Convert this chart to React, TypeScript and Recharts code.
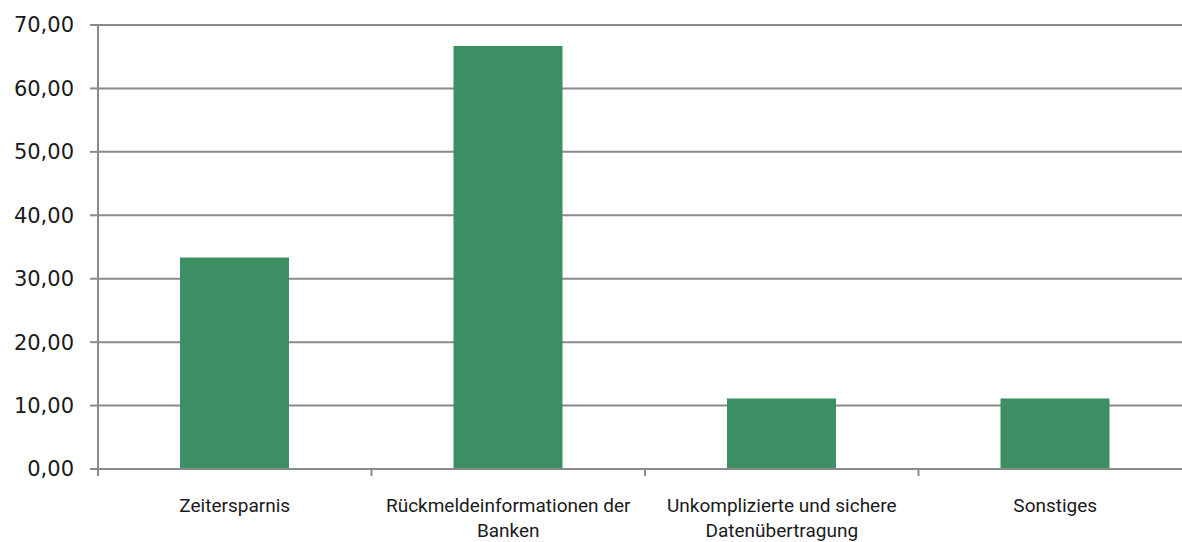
import { BarChart, Bar, XAxis, YAxis, CartesianGrid } from "recharts";

const categories = [
  "Zeitersparnis",
  "Rückmeldeinformationen der Banken",
  "Unkomplizierte und sichere Datenübertragung",
  "Sonstiges",
];
const values = [33.33, 66.67, 11.11, 11.11];
const yTicks = [0, 10, 20, 30, 40, 50, 60, 70];

const data = categories.map((name, i) => ({ name, value: values[i] }));

const GRID = "#8a8a8a";
const FONT = "Roboto, 'Liberation Sans', sans-serif";

// simple word wrap, the original breaks after ~26 characters
function wrap(label: string, maxChars = 27): string[] {
  const lines: string[] = [];
  let cur = "";
  for (const w of label.split(" ")) {
    const next = cur ? cur + " " + w : w;
    if (next.length > maxChars && cur) {
      lines.push(cur);
      cur = w;
    } else {
      cur = next;
    }
  }
  if (cur) lines.push(cur);
  return lines;
}

// label centred in the band, tick marks on the band edges
function CategoryTick(props: any) {
  const { x, y, payload, index, visibleTicksCount } = props;
  const lines = wrap(String(payload.value));
  const half = payload.offset ?? 0;
  const isLast = index === visibleTicksCount - 1;
  return (
    <g>
      <line x1={x - half} x2={x - half} y1={y} y2={y + 7} stroke={GRID} strokeWidth={2} />
      {isLast && (
        <line x1={x + half} x2={x + half} y1={y} y2={y + 7} stroke={GRID} strokeWidth={2} />
      )}
      <text
        x={x}
        y={y + 43}
        textAnchor="middle"
        fill="#1a1a1a"
        fontSize={19}
        fontFamily={FONT}
      >
        {lines.map((l, i) => (
          <tspan key={i} x={x} dy={i === 0 ? 0 : 25}>
            {l}
          </tspan>
        ))}
      </text>
    </g>
  );
}

export default function App() {
  return (
    <div
      style={{
        position: "absolute",
        top: 0,
        left: 0,
        width: 1182,
        height: 542,
        overflow: "hidden",
        background: "#fff",
      }}
    >
      <BarChart
        width={1200}
        height={542}
        data={data}
        margin={{ top: 25, right: 8, left: 0, bottom: 0 }}
        barCategoryGap={0}
      >
        <CartesianGrid vertical={false} stroke={GRID} strokeWidth={2} />
        <XAxis
          dataKey="name"
          height={73}
          interval={0}
          tickLine={false}
          tickSize={0}
          tickMargin={0}
          axisLine={{ stroke: GRID, strokeWidth: 2 }}
          tick={<CategoryTick />}
        />
        <YAxis
          width={98}
          domain={[0, 70]}
          ticks={yTicks}
          interval={0}
          tickSize={8}
          tickMargin={16}
          axisLine={{ stroke: GRID, strokeWidth: 2 }}
          tickLine={{ stroke: GRID, strokeWidth: 2 }}
          tick={{ fill: "#1a1a1a", fontSize: 21, fontFamily: "'DejaVu Sans', sans-serif" }}
          tickFormatter={(v: number) => v.toFixed(2).replace(".", ",")}
        />
        <Bar dataKey="value" fill="#3c8e63" barSize={109} isAnimationActive={false} />
      </BarChart>
    </div>
  );
}
